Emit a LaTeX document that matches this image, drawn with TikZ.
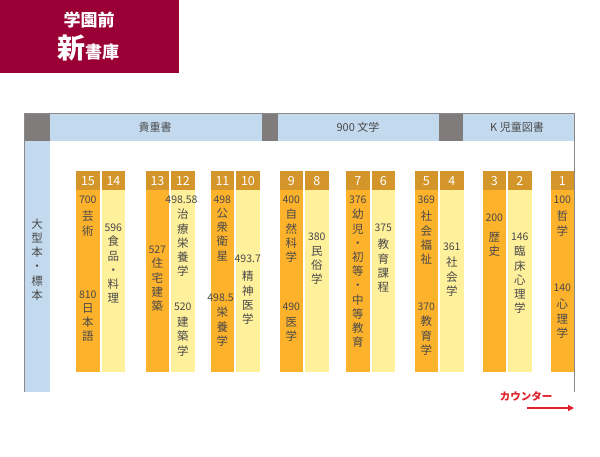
\documentclass[tikz,border=0pt]{standalone}
\usepackage{fontspec}
\setmainfont{Noto Sans CJK JP}
\usetikzlibrary{arrows.meta}
\definecolor{crimson}{HTML}{9A0036}
\definecolor{hdrgold}{HTML}{D4962A}
\definecolor{shelfor}{HTML}{FDB22B}
\definecolor{shelfly}{HTML}{FFF09C}
\definecolor{bandblue}{HTML}{C3D9EE}
\definecolor{bandgray}{HTML}{807C7C}
\definecolor{framegray}{HTML}{8A8888}
\definecolor{txt}{HTML}{4A4A4A}
\definecolor{counterred}{HTML}{E0202A}
\tikzset{
  hdrcell/.style={fill=hdrgold,draw=none,inner sep=0,minimum width=23.5pt,minimum height=19pt,anchor=north west,text=white,font=\fontsize{12.5}{12.5}\selectfont},
  bodycell/.style={draw=none,inner sep=0,minimum width=23.5pt,minimum height=182pt,anchor=north west},
  num/.style={inner sep=0,text=txt,font=\fontsize{10.5}{10.5}\selectfont,anchor=center},
  vt/.style={inner sep=0,text=txt,font=\fontsize{11.5}{14.2}\selectfont,align=center,anchor=north},
  bandlbl/.style={inner sep=0,text=txt,font=\fontsize{11}{11}\selectfont},
}
\begin{document}
\begin{tikzpicture}[x=1pt,y=-1pt]
\useasboundingbox (0,0) rectangle (600,456);
% title
\fill[crimson] (0,0) rectangle (179,73);
\node[inner sep=0,text=white,font=\bfseries\fontsize{17}{17}\selectfont] (t1) at (89,20) {学園前};
\node[inner sep=0,text=white,font=\bfseries\fontsize{17}{17}\selectfont,anchor=base] (t2) at (88,58) {{\fontsize{28}{28}\selectfont 新}書庫};
% header band
\fill[bandblue] (24,113) rectangle (574,141);
\fill[bandgray] (24,113) rectangle (50,141);
\fill[bandgray] (262,113) rectangle (278,141);
\fill[bandgray] (439,113) rectangle (463,141);
\fill[bandblue] (24,141) rectangle (50,392);
\draw[framegray,line width=1pt] (24,392) -- (24,113) -- (574,113) -- (574,392);
\node[bandlbl] (b1) at (155,127) {貴重書};
\node[bandlbl] (b2) at (358,127) {900 文学};
\node[bandlbl] (b3) at (517,127) {K 児童図書};
\node[vt] (side) at (37,218.5) {大\\型\\本\\・\\標\\本};
% shelves
\foreach \n/\x/\c in {15/76/shelfor,14/101.5/shelfly,13/145.5/shelfor,12/171/shelfly,11/210.5/shelfor,10/236/shelfly,9/279.5/shelfor,8/305/shelfly,7/346/shelfor,6/371.5/shelfly,5/414.5/shelfor,4/440/shelfly,3/482.5/shelfor,2/508/shelfly,1/550.5/shelfor}{
  \node[bodycell,fill=\c] (c\n) at (\x,190) {};
  \node[hdrcell] (h\n) at (\x,171) {\n};
}
% labels
\node[num] (n15a) at (87.75,200) {700};
\node[vt] (w15a) at (87.75,211) {芸\\術};
\node[num] (n15b) at (87.75,295) {810};
\node[vt] (w15b) at (87.75,303) {日\\本\\語};
\node[num] (n14) at (113.25,228) {596};
\node[vt] (w14) at (113.25,236) {食\\品\\・\\料\\理};
\node[num] (n13) at (157.25,250) {527};
\node[vt] (w13) at (157.25,258) {住\\宅\\建\\築};
\node[num] (n12a) at (181.5,200) {498.58};
\node[vt] (w12a) at (182.75,209) {治\\療\\栄\\養\\学};
\node[num] (n12b) at (182.75,307) {520};
\node[vt] (w12b) at (182.75,317) {建\\築\\学};
\node[num] (n11a) at (222.25,200) {498};
\node[vt] (w11a) at (222.25,208) {公\\衆\\衛\\星};
\node[num] (n11b) at (220.5,298) {498.5};
\node[vt] (w11b) at (222.25,307) {栄\\養\\学};
\node[num] (n10) at (247.75,259) {493.7};
\node[vt] (w10) at (247.75,271) {精\\神\\医\\学};
\node[num] (n9a) at (291.25,200) {400};
\node[vt] (w9a) at (291.25,209) {自\\然\\科\\学};
\node[num] (n9b) at (291.25,307) {490};
\node[vt] (w9b) at (291.25,317) {医\\学};
\node[num] (n8) at (316.75,237) {380};
\node[vt] (w8) at (316.75,246) {民\\俗\\学};
\node[num] (n7) at (357.75,200) {376};
\node[vt] (w7) at (357.75,209) {幼\\児\\・\\初\\等\\・\\中\\等\\教\\育};
\node[num] (n6) at (383.25,228) {375};
\node[vt] (w6) at (383.25,239) {教\\育\\課\\程};
\node[num] (n5a) at (426.25,200) {369};
\node[vt] (w5a) at (426.25,211) {社\\会\\福\\祉};
\node[num] (n5b) at (426.25,307) {370};
\node[vt] (w5b) at (426.25,316) {教\\育\\学};
\node[num] (n4) at (451.75,247) {361};
\node[vt] (w4) at (451.75,257) {社\\会\\学};
\node[num] (n3) at (494.25,218) {200};
\node[vt] (w3) at (494.25,232) {歴\\史};
\node[num] (n2) at (519.75,237) {146};
\node[vt] (w2) at (519.75,246) {臨\\床\\心\\理\\学};
\node[num] (n1a) at (562.25,200) {100};
\node[vt] (w1a) at (562.25,211) {哲\\学};
\node[num] (n1b) at (562.25,288) {140};
\node[vt] (w1b) at (562.25,299) {心\\理\\学};
% counter
\node[inner sep=0,text=counterred,font=\bfseries\fontsize{10.5}{10.5}\selectfont] (ctr) at (526,396) {カウンター};
\coordinate (arS) at (527,408);
\coordinate (arE) at (574,408);
\draw[counterred,line width=1.2pt,-{Triangle[length=6pt,width=6pt]}] (arS) -- (arE);
\end{tikzpicture}
\end{document}
